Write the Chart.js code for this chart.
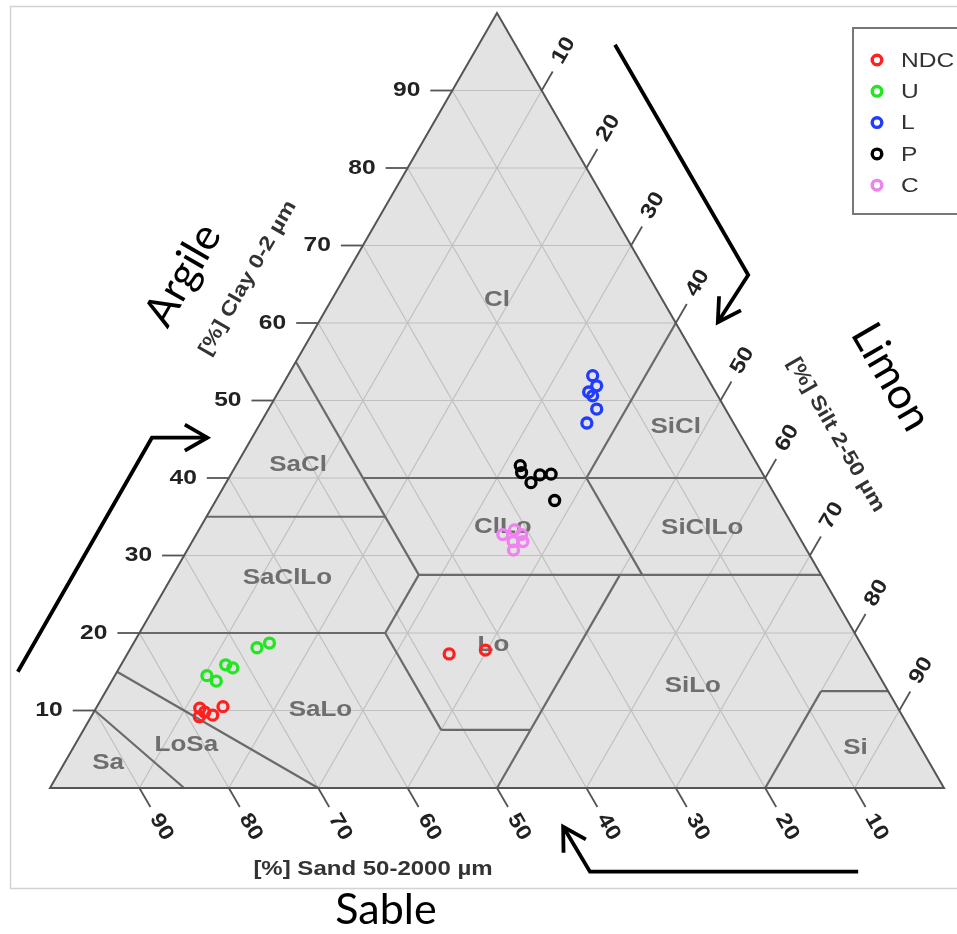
<!DOCTYPE html>
<html>
<head>
<meta charset="utf-8">
<script src="https://cdn.jsdelivr.net/npm/chart.js@4.4.0/dist/chart.umd.min.js"></script>
<style>
  html, body { margin: 0; padding: 0; background: #ffffff; }
  #wrap { width: 957px; height: 934px; position: relative; }
</style>
</head>
<body>
<div id="wrap"><canvas id="c" width="957" height="934"></canvas></div>
<script>
// Sample compositions in percent: clay (0-2 µm) and silt (2-50 µm); sand = 100 - clay - silt
const ndcClay = [10.3, 9.2, 9.4, 10.5, 9.8, 17.3, 17.8];
const ndcSilt = [11.6, 12.1, 13.5, 14.1, 12.4, 36.0, 39.8];
const uClay = [14.5, 13.8, 15.9, 15.5, 18.1, 18.7];
const uSilt = [10.3, 11.7, 11.7, 12.7, 14.1, 15.2];
const lClay = [53.2, 51.9, 51.1, 50.6, 48.9, 47.1];
const lSilt = [34.1, 35.2, 34.7, 35.4, 36.7, 36.5];
const pClay = [41.6, 40.7, 39.4, 40.4, 40.5, 37.1];
const pSilt = [31.8, 32.4, 34.1, 34.6, 35.8, 37.9];
const cClay = [32.7, 33.3, 32.7, 31.8, 31.8, 30.7];
const cSilt = [34.3, 35.3, 36.4, 35.9, 37.0, 36.5];

const seriesNames = ['NDC', 'U', 'L', 'P', 'C'];
const seriesColors = ['#ff2020', '#22e622', '#1f3cff', '#000000', '#ee82ee'];

// Axis graduations (percent)
const axisTicks = [10, 20, 30, 40, 50, 60, 70, 80, 90];

// USDA texture class boundaries, each segment as [clay, silt] -> [clay, silt]
const classBoundaries = [
  [[10, 0], [0, 15]],
  [[15, 0], [0, 30]],
  [[20, 0], [20, 27.5]],
  [[20, 27.5], [27.5, 27.5]],
  [[20, 27.5], [7.5, 40]],
  [[7.5, 40], [7.5, 50]],
  [[0, 50], [27.5, 50]],
  [[27.5, 27.5], [27.5, 72.5]],
  [[27.5, 27.5], [55, 0]],
  [[35, 0], [35, 20]],
  [[40, 15], [40, 60]],
  [[40, 40], [60, 40]],
  [[40, 40], [27.5, 52.5]],
  [[0, 80], [12.5, 80]],
  [[12.5, 80], [12.5, 87.5]]
];

// Texture class names and where they sit (clay, silt)
const classNames = ['Cl', 'SaCl', 'SaClLo', 'ClLo', 'Lo', 'SaLo', 'LoSa', 'Sa', 'SiCl', 'SiClLo', 'SiLo', 'Si'];
const classClay = [63.0, 41.7, 27.1, 33.7, 18.4, 10.1, 5.5, 3.2, 46.6, 33.5, 13.2, 5.2];
const classSilt = [18.5, 6.9, 13.0, 33.8, 40.4, 25.2, 12.5, 4.9, 46.7, 56.2, 65.3, 87.5];

// Direction arrows beside the axes, in plot units (x = silt + clay/2, y = clay)
const arrowPaths = [
  [[-3.6, 15.0], [11.4, 45.2], [17.6, 45.2]],
  [[63.2, 95.9], [78.1, 66.2], [74.7, 60.1]],
  [[90.4, -10.8], [60.4, -10.8], [57.4, -5.0]]
];

// ternary (clay, silt) -> plot coordinates
function tern(clay, silt) { return { x: silt + clay / 2, y: clay }; }

function buildPoints(clay, silt) { return clay.map((c, i) => tern(c, silt[i])); }
const seriesData = [
  buildPoints(ndcClay, ndcSilt),
  buildPoints(uClay, uSilt),
  buildPoints(lClay, lSilt),
  buildPoints(pClay, pSilt),
  buildPoints(cClay, cSilt)
];

const BOLD = '"Liberation Sans", Arial, sans-serif';
const BIG = 'Lato, "Open Sans", sans-serif';

function text(ctx, s, x, y, rot, font, color, align, sx) {
  ctx.save();
  ctx.translate(x, y);
  ctx.rotate(rot);
  ctx.scale(sx, 1);
  ctx.font = font;
  ctx.fillStyle = color;
  ctx.textAlign = align;
  ctx.textBaseline = 'middle';
  ctx.fillText(s, 0, 0);
  ctx.restore();
}

const ternaryPlugin = {
  id: 'ternary',
  beforeDatasetsDraw(chart) {
    const ctx = chart.ctx;
    const xs = chart.scales.x, ys = chart.scales.y;
    const P = (clay, silt) => {
      const t = tern(clay, silt);
      return [xs.getPixelForValue(t.x), ys.getPixelForValue(t.y)];
    };
    const seg = (a, b) => { ctx.beginPath(); ctx.moveTo(a[0], a[1]); ctx.lineTo(b[0], b[1]); ctx.stroke(); };

    // outer frame
    ctx.save();
    ctx.strokeStyle = '#d2d2d2';
    ctx.lineWidth = 1.5;
    ctx.strokeRect(10.5, 6.5, 960, 882);
    ctx.restore();

    // triangle fill
    const A = P(0, 0), B = P(0, 100), C = P(100, 0);
    ctx.save();
    ctx.fillStyle = '#e3e3e3';
    ctx.beginPath(); ctx.moveTo(A[0], A[1]); ctx.lineTo(B[0], B[1]); ctx.lineTo(C[0], C[1]); ctx.closePath(); ctx.fill();

    // grid
    ctx.strokeStyle = '#c0c0c0';
    ctx.lineWidth = 1.2;
    axisTicks.forEach(k => {
      seg(P(k, 0), P(k, 100 - k));            // clay
      seg(P(0, k), P(100 - k, k));            // silt
      seg(P(0, 100 - k), P(100 - k, 0));      // sand
    });

    // class boundaries
    ctx.strokeStyle = '#6a6a6a';
    ctx.lineWidth = 2.2;
    classBoundaries.forEach(s => seg(P(s[0][0], s[0][1]), P(s[1][0], s[1][1])));

    // triangle edges
    ctx.strokeStyle = '#555555';
    ctx.lineWidth = 2;
    ctx.beginPath(); ctx.moveTo(A[0], A[1]); ctx.lineTo(B[0], B[1]); ctx.lineTo(C[0], C[1]); ctx.closePath(); ctx.stroke();

    // ticks and tick labels
    ctx.strokeStyle = '#555555';
    ctx.lineWidth = 1.8;
    const tf = 'bold 21px ' + BOLD;
    axisTicks.forEach(k => {
      // clay (left edge)
      const pc = P(k, 0);
      seg(pc, [pc[0] - 22, pc[1]]);
      text(ctx, String(k), pc[0] - 32, pc[1], 0, tf, '#222', 'right', 1.17);
      // sand (bottom edge)
      const ps = P(0, 100 - k);
      seg(ps, [ps[0] + 11, ps[1] + 19]);
      text(ctx, String(k), ps[0] + 22, ps[1] + 39, Math.PI / 3, tf, '#222', 'center', 1.17);
      // silt (right edge)
      const pt = P(100 - k, k);
      seg(pt, [pt[0] + 11, pt[1] - 19]);
      text(ctx, String(k), pt[0] + 22, pt[1] - 40, -Math.PI / 3, tf, '#222', 'center', 1.17);
    });

    // class names
    classNames.forEach((n, i) => {
      const p = P(classClay[i], classSilt[i]);
      text(ctx, n, p[0], p[1], 0, 'bold 22px ' + BOLD, '#6e6e6e', 'center', 1.18);
    });

    // axis titles
    text(ctx, '[%] Clay 0-2 \u00b5m', 248, 278, -Math.PI / 3, 'bold 20px ' + BOLD, '#333', 'center', 1.18);
    text(ctx, '[%] Silt 2-50 \u00b5m', 836, 435, Math.PI / 3, 'bold 20px ' + BOLD, '#333', 'center', 1.18);
    text(ctx, '[%] Sand 50-2000 \u00b5m', 373, 869, 0, 'bold 20px ' + BOLD, '#333', 'center', 1.2);
    text(ctx, 'Argile', 183, 275, -Math.PI / 3, '43px ' + BIG, '#000', 'center', 1);
    text(ctx, 'Limon', 891, 377, Math.PI / 3, '43px ' + BIG, '#000', 'center', 1);
    text(ctx, 'Sable', 386, 910, 0, '43px ' + BIG, '#000', 'center', 1);

    // arrows
    ctx.strokeStyle = '#000';
    ctx.lineWidth = 3.8;
    ctx.lineJoin = 'miter';
    ctx.lineCap = 'butt';
    arrowPaths.forEach(path => {
      const pts = path.map(q => [xs.getPixelForValue(q[0]), ys.getPixelForValue(q[1])]);
      ctx.beginPath();
      ctx.moveTo(pts[0][0], pts[0][1]);
      for (let i = 1; i < pts.length; i++) ctx.lineTo(pts[i][0], pts[i][1]);
      ctx.stroke();
      const tip = pts[pts.length - 1], prev = pts[pts.length - 2];
      const ang = Math.atan2(tip[1] - prev[1], tip[0] - prev[0]);
      const L = 26, w = Math.PI / 6;
      ctx.beginPath();
      ctx.moveTo(tip[0] - L * Math.cos(ang - w), tip[1] - L * Math.sin(ang - w));
      ctx.lineTo(tip[0], tip[1]);
      ctx.lineTo(tip[0] - L * Math.cos(ang + w), tip[1] - L * Math.sin(ang + w));
      ctx.stroke();
    });
    ctx.restore();
  },
  afterDraw(chart) {
    // legend box
    const ctx = chart.ctx;
    ctx.save();
    ctx.strokeStyle = '#777777';
    ctx.lineWidth = 2;
    ctx.strokeRect(853, 28, 130, 186);
    chart.data.datasets.forEach((ds, i) => {
      const y = 60 + i * 31.3;
      ctx.beginPath();
      ctx.strokeStyle = ds.borderColor;
      ctx.lineWidth = 3.4;
      ctx.arc(877, y, 4.8, 0, Math.PI * 2);
      ctx.stroke();
      text(ctx, ds.label, 901, y + 1, 0, '21px ' + BOLD, '#333', 'left', 1.17);
    });
    ctx.restore();
  }
};

new Chart(document.getElementById('c'), {
  type: 'scatter',
  data: {
    datasets: seriesNames.map((n, i) => ({
      label: n,
      data: seriesData[i],
      borderColor: seriesColors[i],
      backgroundColor: 'rgba(0,0,0,0)',
      pointStyle: 'circle',
      pointRadius: 5,
      pointBorderWidth: 3.3,
      pointHoverRadius: 5,
      clip: false
    }))
  },
  options: {
    responsive: false,
    animation: false,
    events: [],
    layout: { padding: { left: 50, right: 13, top: 13, bottom: 146 } },
    plugins: { legend: { display: false }, tooltip: { enabled: false } },
    scales: {
      x: { type: 'linear', min: 0, max: 100, display: false },
      y: { type: 'linear', min: 0, max: 100, display: false }
    }
  },
  plugins: [ternaryPlugin]
});
</script>
</body>
</html>
